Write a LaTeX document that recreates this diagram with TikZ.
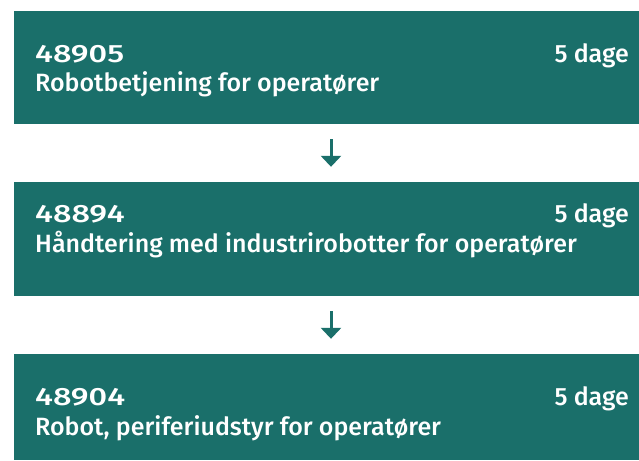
\documentclass[tikz,border=0pt]{standalone}
\usepackage{fontspec}
\setmainfont{Fira Sans}[UprightFont=* Medium]
\newfontfamily\codefont{Fira Sans}[UprightFont=* Medium,FakeStretch=1.3]
\usepackage{tikz}
\usetikzlibrary{arrows.meta}

\definecolor{teal}{RGB}{26,111,106}

\begin{document}
\begin{tikzpicture}[x=1pt,y=-1pt,
  box/.style={fill=teal,draw=none,inner sep=0pt,minimum width=625pt},
  txt/.style={text=white,inner sep=0pt,font=\fontsize{25}{30}\selectfont},
  code/.style={txt,font=\fontsize{25}{30}\selectfont\codefont},
  flow/.style={draw=teal,line width=3pt,-{Triangle[width=20pt,length=11pt]},shorten <=15pt,shorten >=15pt}]
\useasboundingbox (0,0) rectangle (639,460);
\node[box,minimum height=113pt] (BOXA) at (326.5,67.5) {};
\node[box,minimum height=114pt] (BOXB) at (326.5,239) {};
\node[box,minimum height=106pt] (BOXC) at (326.5,407) {};
\node[code,anchor=base west] (NUMA) at (35,63) {48905};
\node[txt,anchor=base east] (DAYSA) at (629,63) {5 dage};
\node[txt,anchor=base west] (TITLEA) at (35,91) {Robotbetjening for operatører};
\node[code,anchor=base west] (NUMB) at (35,222) {48894};
\node[txt,anchor=base east] (DAYSB) at (629,222) {5 dage};
\node[txt,anchor=base west] (TITLEB) at (35,252) {Håndtering med industrirobotter for operatører};
\node[code,anchor=base west] (NUMC) at (35,405) {48904};
\node[txt,anchor=base east] (DAYSC) at (629,405) {5 dage};
\node[txt,anchor=base west] (TITLEC) at (35,435) {Robot, periferiudstyr for operatører};
\draw[flow] ([xshift=4.5pt]BOXA.south) -- ([xshift=4.5pt]BOXB.north);
\draw[flow] ([xshift=4.5pt]BOXB.south) -- ([xshift=4.5pt]BOXC.north);
\end{tikzpicture}
\end{document}
